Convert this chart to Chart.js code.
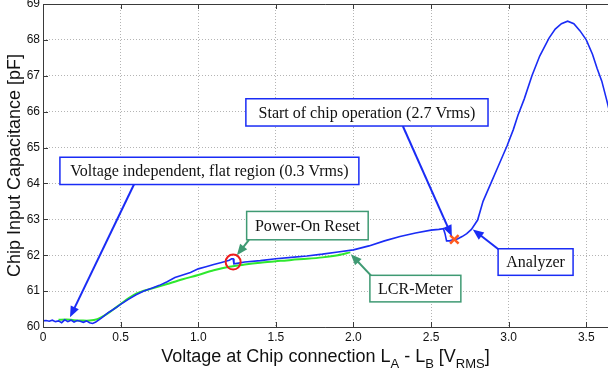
<!DOCTYPE html>
<html>
<head>
<meta charset="utf-8">
<script src="https://cdn.jsdelivr.net/npm/chart.js@4/dist/chart.umd.min.js"></script>
<style>
  html, body { margin: 0; padding: 0; background: #fff; }
  #wrap { width: 608px; height: 376px; }
</style>
</head>
<body>
<div id="wrap"><canvas id="c" width="608" height="376"></canvas></div>
<script>
// analyzer sweep (blue)
const analyzerV = [0.00, 0.02, 0.04, 0.06, 0.08, 0.10, 0.12, 0.14, 0.16, 0.18, 0.20, 0.22, 0.24, 0.26, 0.28, 0.30,
  0.32, 0.34, 0.36, 0.38, 0.40, 0.42, 0.45, 0.48, 0.50, 0.55, 0.60, 0.65, 0.70, 0.75, 0.80, 0.85, 0.90, 0.95,
  1.00, 1.05, 1.10, 1.15, 1.20, 1.215, 1.225, 1.23, 1.26, 1.30, 1.40, 1.50, 1.60, 1.70, 1.80, 1.90, 2.00,
  2.10, 2.20, 2.30, 2.40, 2.50, 2.55, 2.58, 2.59, 2.60, 2.62, 2.64, 2.67, 2.70, 2.73, 2.76, 2.80, 2.835,
  2.86, 2.89, 2.93, 2.96, 2.99, 3.03, 3.06, 3.10, 3.15, 3.20, 3.26, 3.30, 3.34, 3.38, 3.42, 3.46, 3.50,
  3.54, 3.57, 3.60, 3.63, 3.65]
const analyzerC = [60.17, 60.18, 60.16, 60.19, 60.15, 60.17, 60.12, 60.20, 60.15, 60.19, 60.14, 60.18, 60.16, 60.13, 60.17, 60.12,
  60.10, 60.14, 60.20, 60.26, 60.33, 60.40, 60.48, 60.57, 60.63, 60.77, 60.90, 61.00, 61.08, 61.16, 61.26, 61.38, 61.45, 61.52,
  61.62, 61.68, 61.74, 61.80, 61.86, 61.90, 61.90, 61.76, 61.78, 61.81, 61.85, 61.90, 61.94, 61.98, 62.03, 62.09, 62.15,
  62.26, 62.40, 62.52, 62.62, 62.70, 62.72, 62.74, 62.60, 62.40, 62.40, 62.43, 62.45, 62.52, 62.60, 62.72, 62.98, 63.50,
  63.75, 64.05, 64.45, 64.75, 65.05, 65.50, 65.90, 66.35, 67.00, 67.55, 68.05, 68.30, 68.45, 68.52, 68.45, 68.25, 68.00,
  67.60, 67.20, 66.85, 66.35, 66.00]

// LCR meter (green)
const lcrV = [0.10, 0.15, 0.20, 0.25, 0.30, 0.35, 0.40, 0.45, 0.50, 0.55, 0.60, 0.65, 0.70, 0.80, 0.90,
  1.00, 1.10, 1.20, 1.30, 1.40, 1.50, 1.60, 1.70, 1.80, 1.90, 1.98]
const lcrC = [60.20, 60.21, 60.19, 60.18, 60.18, 60.22, 60.33, 60.48, 60.64, 60.80, 60.93, 61.01, 61.07, 61.20, 61.33,
  61.45, 61.58, 61.68, 61.74, 61.79, 61.83, 61.87, 61.90, 61.94, 62.00, 62.08]

// markers
const startV = [2.65], startC = [62.44]
const porV = [1.225], porC = [61.81]

const xTicks = [0, 0.5, 1, 1.5, 2, 2.5, 3, 3.5]
const yTicks = [60, 61, 62, 63, 64, 65, 66, 67, 68, 69]

const blue = '#1a2cf5'
const teal = '#3f9a73'

// text boxes: corners and arrow in data units
const notes = [
  { text: 'Voltage independent, flat region (0.3 Vrms)', box: [0.109, 64.73, 2.035, 63.97], color: blue, from: [0.586, 63.97], to: [0.174, 60.27] },
  { text: 'Start of chip operation (2.7 Vrms)', box: [1.307, 66.36, 2.867, 65.60], color: blue, from: [2.318, 65.60], to: [2.634, 62.53] },
  { text: 'Power-On Reset', box: [1.312, 63.22, 2.095, 62.43], color: teal, from: [1.327, 62.43], to: [1.249, 62.00] },
  { text: 'LCR-Meter', box: [2.106, 61.44, 2.692, 60.70], color: teal, from: [2.118, 61.41], to: [1.983, 62.03] },
  { text: 'Analyzer', box: [2.932, 62.18, 3.415, 61.44], color: blue, from: [2.936, 62.16], to: [2.769, 62.72] }
]

const pts = (xs, ys) => xs.map((x, i) => ({ x: x, y: ys[i] }))

function arrow(ctx, x1, y1, x2, y2, color) {
  const a = Math.atan2(y2 - y1, x2 - x1)
  const L = 11, W = 4.5
  const c = Math.cos(a), s = Math.sin(a)
  ctx.strokeStyle = color
  ctx.fillStyle = color
  ctx.lineWidth = 2
  ctx.beginPath()
  ctx.moveTo(x1, y1)
  ctx.lineTo(x2 - L * c * 0.8, y2 - L * s * 0.8)
  ctx.stroke()
  ctx.beginPath()
  ctx.moveTo(x2, y2)
  ctx.lineTo(x2 - L * c + W * s, y2 - L * s - W * c)
  ctx.lineTo(x2 - L * c - W * s, y2 - L * s + W * c)
  ctx.closePath()
  ctx.fill()
}

const decor = {
  id: 'decor',
  afterDatasetsDraw(chart) {
    const ctx = chart.ctx
    const xs = chart.scales.x, ys = chart.scales.y
    const a = chart.chartArea
    ctx.save()

    // frame + inward ticks
    ctx.strokeStyle = '#3a3a3a'
    ctx.lineWidth = 1
    ctx.beginPath()
    ctx.moveTo(a.left + 0.5, a.top + 0.5)
    ctx.lineTo(a.left + 0.5, a.bottom + 0.5)
    ctx.lineTo(a.right, a.bottom + 0.5)
    ctx.moveTo(a.left, a.top + 0.5)
    ctx.lineTo(a.right, a.top + 0.5)
    xTicks.forEach(v => {
      const p = Math.round(xs.getPixelForValue(v)) + 0.5
      ctx.moveTo(p, a.bottom); ctx.lineTo(p, a.bottom - 5)
      ctx.moveTo(p, a.top); ctx.lineTo(p, a.top + 5)
    })
    yTicks.forEach(v => {
      const p = Math.round(ys.getPixelForValue(v)) + 0.5
      ctx.moveTo(a.left, p); ctx.lineTo(a.left + 5, p)
    })
    ctx.stroke()

    // annotations
    ctx.font = '16px "Liberation Serif", "Times New Roman", serif'
    ctx.textAlign = 'center'
    ctx.textBaseline = 'middle'
    notes.forEach(n => {
      arrow(ctx, xs.getPixelForValue(n.from[0]), ys.getPixelForValue(n.from[1]),
        xs.getPixelForValue(n.to[0]), ys.getPixelForValue(n.to[1]), n.color)
      const l = xs.getPixelForValue(n.box[0]), t = ys.getPixelForValue(n.box[1])
      const r = xs.getPixelForValue(n.box[2]), b = ys.getPixelForValue(n.box[3])
      ctx.fillStyle = '#fff'
      ctx.fillRect(l, t, r - l, b - t)
      ctx.strokeStyle = n.color
      ctx.lineWidth = 1.5
      ctx.strokeRect(l, t, r - l, b - t)
      ctx.fillStyle = '#111'
      ctx.fillText(n.text, (l + r) / 2, (t + b) / 2 + 1)
    })

    // axis titles
    ctx.fillStyle = '#111'
    ctx.save()
    ctx.translate(15, (a.top + a.bottom) / 2)
    ctx.rotate(-Math.PI / 2)
    ctx.font = '18px "Liberation Sans", Arial, sans-serif'
    ctx.textAlign = 'center'
    ctx.textBaseline = 'middle'
    ctx.fillText('Chip Input Capacitance [pF]', 0, 0)
    ctx.restore()

    const parts = [['Voltage at Chip connection L', 0], ['A', 1], [' - L', 0], ['B', 1], [' [V', 0], ['RMS', 1], [']', 0]]
    const big = '18px "Liberation Sans", Arial, sans-serif'
    const small = '13px "Liberation Sans", Arial, sans-serif'
    let total = 0
    parts.forEach(p => { ctx.font = p[1] ? small : big; total += ctx.measureText(p[0]).width })
    let x = (a.left + a.right) / 2 - total / 2
    const base = 362
    ctx.textAlign = 'left'
    ctx.textBaseline = 'alphabetic'
    parts.forEach(p => {
      ctx.font = p[1] ? small : big
      ctx.fillText(p[0], x, p[1] ? base + 6 : base)
      x += ctx.measureText(p[0]).width
    })
    ctx.restore()
  }
}

const tickFont = { family: '"Liberation Sans", Arial, sans-serif', size: 12 }

new Chart(document.getElementById('c').getContext('2d'), {
  type: 'scatter',
  data: {
    datasets: [
      { label: 'Power-On Reset', data: pts(porV, porC), pointStyle: 'circle', pointRadius: 7.5, borderColor: '#ee1c1c', borderWidth: 2, backgroundColor: 'rgba(0,0,0,0)', showLine: false },
      { label: 'Start', data: pts(startV, startC), pointStyle: 'crossRot', pointRadius: 6, borderColor: '#ff5a1f', borderWidth: 2.5, showLine: false },
      { label: 'Analyzer', data: pts(analyzerV, analyzerC), showLine: true, borderColor: blue, borderWidth: 1.6, pointRadius: 0, tension: 0 },
      { label: 'LCR-Meter', data: pts(lcrV, lcrC), showLine: true, borderColor: '#2ee82e', borderWidth: 2, pointRadius: 0, tension: 0.3 }
    ]
  },
  options: {
    responsive: false,
    animation: false,
    layout: { autoPadding: false, padding: { top: 4, right: 0, left: 0, bottom: 0 } },
    plugins: { legend: { display: false }, tooltip: { enabled: false } },
    scales: {
      x: {
        type: 'linear',
        min: 0, max: 3.64,
        afterBuildTicks: s => { s.ticks = xTicks.map(v => ({ value: v })) },
        afterFit: s => { s.height = 49; s.paddingLeft = 0; s.paddingRight = 0 },
        ticks: { color: '#111', font: tickFont, padding: 3, autoSkip: false, maxRotation: 0, includeBounds: false },
        grid: { color: '#b4b4b4', lineWidth: 1, drawTicks: false },
        border: { display: false, dash: [1, 2] }
      },
      y: {
        type: 'linear',
        min: 60, max: 69,
        afterBuildTicks: s => { s.ticks = yTicks.map(v => ({ value: v })) },
        afterFit: s => { s.width = 43; s.paddingTop = 0; s.paddingBottom = 0 },
        ticks: { color: '#111', font: tickFont, padding: 3, autoSkip: false },
        grid: { color: '#b4b4b4', lineWidth: 1, drawTicks: false },
        border: { display: false, dash: [1, 2] }
      }
    }
  },
  plugins: [decor]
})
</script>
</body>
</html>
